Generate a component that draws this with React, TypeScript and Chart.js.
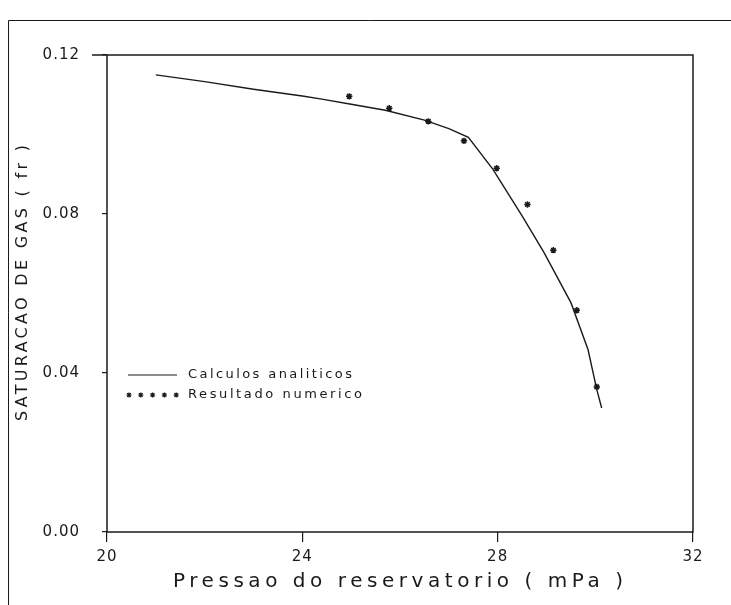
import React, { useEffect, useRef } from "react";
import { Chart, registerables } from "chart.js";

Chart.register(...registerables);

// Analytical calculation curve (Calculos analiticos)
const analyticX = [21.0, 22.0, 23.0, 24.0, 24.4, 25.0, 25.7, 26.5, 27.0, 27.4, 27.9, 28.5, 28.95, 29.5, 29.85, 30.03, 30.13];
const analyticY = [0.115, 0.1133, 0.1114, 0.1097, 0.1089, 0.1076, 0.1061, 0.1036, 0.1015, 0.0993, 0.0913, 0.0795, 0.0703, 0.0577, 0.0459, 0.0358, 0.0312];

// Numerical result points (Resultado numerico)
const numericX = [24.96, 25.78, 26.58, 27.31, 27.98, 28.61, 29.14, 29.62, 30.03];
const numericY = [0.1096, 0.1066, 0.1033, 0.0984, 0.0915, 0.0824, 0.0709, 0.0558, 0.0365];

// Tick labels
const xTicks = [20, 24, 28, 32];
const yTicks = [0.0, 0.04, 0.08, 0.12];

const xTitle = "Pressao do reservatorio ( mPa )";
const yTitle = "SATURACAO DE GAS ( fr )";
const legendLabels = ["Calculos analiticos", "Resultado numerico"];

const INK = "#1a1a1a";
const FONT = "'DejaVu Sans', 'Liberation Sans', Arial, sans-serif";

function spacedText(ctx: CanvasRenderingContext2D, text: string, left: number, cy: number, width: number, size: number) {
  ctx.save();
  ctx.font = `${size}px ${FONT}`;
  (ctx as any).letterSpacing = "0px";
  const w = ctx.measureText(text).width;
  const sp = Math.max(0, (width - w) / Math.max(1, text.length - 1));
  (ctx as any).letterSpacing = `${sp}px`;
  ctx.fillStyle = INK;
  ctx.textAlign = "left";
  ctx.textBaseline = "middle";
  ctx.fillText(text, left, cy);
  ctx.restore();
}

function drawStar(ctx: CanvasRenderingContext2D, x: number, y: number, r: number) {
  ctx.beginPath();
  for (let i = 0; i < 4; i++) {
    const a = (i * Math.PI) / 4;
    ctx.moveTo(x - r * Math.cos(a), y - r * Math.sin(a));
    ctx.lineTo(x + r * Math.cos(a), y + r * Math.sin(a));
  }
  ctx.stroke();
}

const decorPlugin = {
  id: "decor",
  beforeDraw(chart: any) {
    (chart.ctx as any).letterSpacing = "1px";
  },
  beforeDatasetsDraw(chart: any) {
    (chart.ctx as any).letterSpacing = "0px";
  },
  afterDraw(chart: any) {
    const ctx: CanvasRenderingContext2D = chart.ctx;
    const a = chart.chartArea;
    ctx.save();
    (ctx as any).letterSpacing = "0px";
    ctx.strokeStyle = INK;
    // page frame
    ctx.lineWidth = 1;
    ctx.beginPath();
    ctx.moveTo(8.5, 605);
    ctx.lineTo(8.5, 20.5);
    ctx.lineTo(731, 20.5);
    ctx.stroke();
    // plot box
    ctx.lineWidth = 1.5;
    ctx.strokeRect(a.left, a.top, a.right - a.left, a.bottom - a.top);
    // long tick at top of y axis
    ctx.beginPath();
    ctx.moveTo(92, a.top);
    ctx.lineTo(a.left, a.top);
    ctx.stroke();
    // legend
    ctx.lineWidth = 1.2;
    ctx.beginPath();
    ctx.moveTo(128, 375);
    ctx.lineTo(177, 375);
    ctx.stroke();
    for (let i = 0; i < 5; i++) drawStar(ctx, 129 + i * 11.8, 395, 2.6);
    ctx.restore();
    spacedText(ctx, legendLabels[0], 188, 375, 164, 13);
    spacedText(ctx, legendLabels[1], 188, 395, 174, 13);
    // x title
    spacedText(ctx, xTitle, 173, 582, 450, 20);
    // y title
    ctx.save();
    ctx.translate(23, 283);
    ctx.rotate(-Math.PI / 2);
    spacedText(ctx, yTitle, -138, 0, 276, 16);
    ctx.restore();
  },
};

export default function App() {
  const ref = useRef<HTMLCanvasElement | null>(null);
  useEffect(() => {
    if (!ref.current) return;
    const chart = new Chart(ref.current, {
      type: "scatter",
      data: {
        datasets: [
          {
            label: legendLabels[0],
            data: analyticX.map((x, i) => ({ x, y: analyticY[i] })),
            showLine: true,
            borderColor: INK,
            borderWidth: 1.4,
            pointRadius: 0,
            tension: 0,
          },
          {
            label: legendLabels[1],
            data: numericX.map((x, i) => ({ x, y: numericY[i] })),
            showLine: false,
            pointStyle: "star",
            pointRadius: 3.2,
            borderColor: INK,
            backgroundColor: INK,
            pointBorderWidth: 1.5,
          },
        ],
      },
      options: {
        responsive: false,
        animation: false,
        devicePixelRatio: 1,
        layout: { padding: { top: 55, right: 38, left: 0, bottom: 0 } },
        plugins: { legend: { display: false }, tooltip: { enabled: false } },
        scales: {
          x: {
            type: "linear",
            min: 20,
            max: 32,
            afterBuildTicks: (s: any) => {
              s.ticks = xTicks.map((v) => ({ value: v }));
            },
            afterFit: (s: any) => {
              s.height = 73;
            },
            grid: { drawOnChartArea: false, drawTicks: true, tickLength: 10, color: INK, lineWidth: 1.2 },
            border: { display: false },
            ticks: {
              color: INK,
              font: { family: FONT, size: 15 },
              padding: 6,
              maxRotation: 0,
              callback: (v: any) => String(v),
            },
          },
          y: {
            type: "linear",
            min: 0,
            max: 0.12,
            afterBuildTicks: (s: any) => {
              s.ticks = yTicks.map((v) => ({ value: v }));
            },
            afterFit: (s: any) => {
              s.width = 107;
            },
            grid: { drawOnChartArea: false, drawTicks: true, tickLength: 5, color: INK, lineWidth: 1.2 },
            border: { display: false },
            ticks: {
              color: INK,
              font: { family: FONT, size: 15 },
              padding: 22,
              callback: (v: any) => Number(v).toFixed(2),
            },
          },
        },
      },
      plugins: [decorPlugin],
    });
    return () => chart.destroy();
  }, []);
  return (
    <div style={{ position: "absolute", left: 0, top: 0, width: 731, height: 605, background: "#fff" }}>
      <canvas ref={ref} width={731} height={605} style={{ display: "block" }} />
    </div>
  );
}
